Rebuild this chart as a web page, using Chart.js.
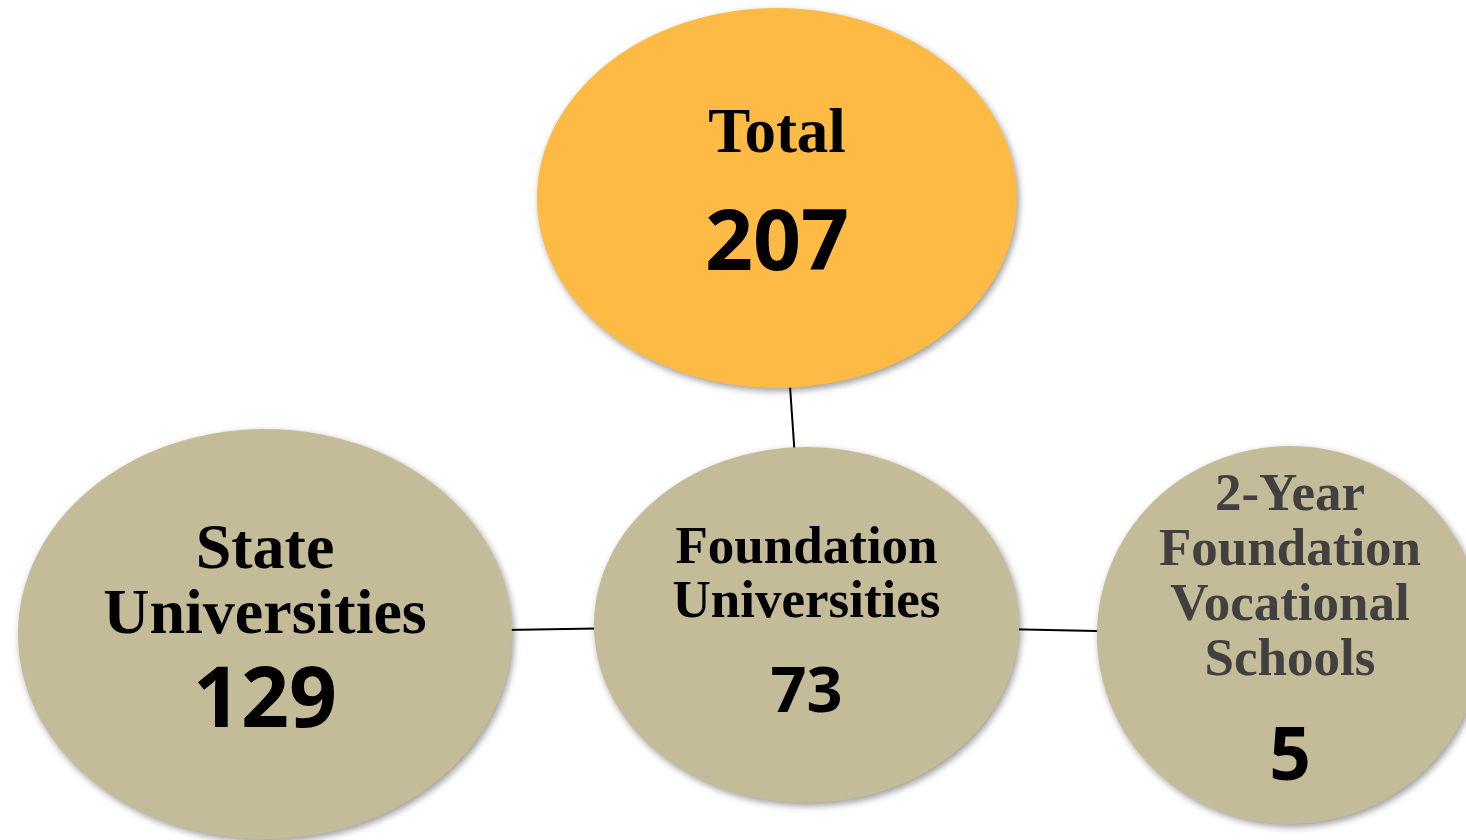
<!DOCTYPE html>
<html>
<head>
<meta charset="utf-8">
<script src="https://cdn.jsdelivr.net/npm/chart.js"></script>
<style>
  html, body { margin: 0; padding: 0; background: #ffffff; }
  #wrap { width: 1466px; height: 840px; position: relative; }
</style>
</head>
<body>
<div id="wrap"><canvas id="chart"></canvas></div>
<script>
// data
const nodeLabels = [
  ['Total'],
  ['State', 'Universities'],
  ['Foundation', 'Universities'],
  ['2-Year', 'Foundation', 'Vocational', 'Schools']
];
const nodeCounts = [207, 129, 73, 5];
// links between nodes (indices into the arrays above)
const links = [[0, 2], [1, 2], [2, 3]];

// layout (canvas pixel units = scale units)
const nodeX = [777, 265, 806.5, 1290];
const nodeY = [198, 634, 625, 635];
const radiusX = [240, 247, 212.5, 193];
const radiusY = [190, 205, 178, 189];
const fills = ['#fdbb45', '#c4bc98', '#c4bc98', '#c4bc98'];
const labelColors = ['#000000', '#000000', '#000000', '#404040'];
const labelSize = [63, 64, 53, 53];
const labelLineHeight = [0, 65, 54, 55];
const labelTop = [-46, -66, -62, -125];   // first baseline, relative to centre
const numberSize = [84, 84, 63, 73];
const numberBase = [72, 93, 87, 145];     // number baseline, relative to centre

const ellipsePlugin = {
  id: 'ellipses',
  afterDatasetsDraw(chart) {
    const ctx = chart.ctx;
    const xs = chart.scales.x;
    const ys = chart.scales.y;
    const pts = chart.getDatasetMeta(chart.data.datasets.length - 1).data;

    pts.forEach((pt, i) => {
      const cx = pt.x;
      const cy = pt.y;
      const rx = Math.abs(xs.getPixelForValue(nodeX[i] + radiusX[i]) - cx);
      const ry = Math.abs(ys.getPixelForValue(nodeY[i] + radiusY[i]) - cy);

      ctx.save();
      ctx.shadowColor = 'rgba(0,0,0,0.4)';
      ctx.shadowBlur = 7;
      ctx.shadowOffsetX = 2;
      ctx.shadowOffsetY = 3;
      ctx.beginPath();
      ctx.ellipse(cx, cy, rx, ry, 0, 0, Math.PI * 2);
      ctx.fillStyle = fills[i];
      ctx.fill();
      ctx.restore();

      ctx.save();
      ctx.textAlign = 'center';
      ctx.textBaseline = 'alphabetic';
      ctx.fillStyle = labelColors[i];
      ctx.font = `bold ${labelSize[i]}px "Liberation Serif", "Times New Roman", serif`;
      nodeLabels[i].forEach((line, j) => {
        ctx.fillText(line, cx, cy + labelTop[i] + j * labelLineHeight[i]);
      });
      ctx.fillStyle = '#000000';
      ctx.font = `bold ${numberSize[i]}px "Open Sans", "Noto Sans", sans-serif`;
      ctx.fillText(String(nodeCounts[i]), cx, cy + numberBase[i]);
      ctx.restore();
    });
  }
};

const linkSets = links.map(([a, b]) => ({
  type: 'line',
  data: [{ x: nodeX[a], y: nodeY[a] }, { x: nodeX[b], y: nodeY[b] }],
  borderColor: '#000000',
  borderWidth: 2,
  pointRadius: 0,
  fill: false,
  showLine: true
}));

new Chart(document.getElementById('chart'), {
  type: 'scatter',
  data: {
    datasets: [
      ...linkSets,
      {
        label: 'Institutions',
        data: nodeCounts.map((v, i) => ({ x: nodeX[i], y: nodeY[i], count: v })),
        pointRadius: 0,
        pointHoverRadius: 0
      }
    ]
  },
  options: {
    responsive: true,
    maintainAspectRatio: false,
    animation: false,
    layout: { padding: 0 },
    plugins: {
      legend: { display: false },
      tooltip: { enabled: false }
    },
    scales: {
      x: { type: 'linear', min: 0, max: 1466, display: false },
      y: { type: 'linear', min: 0, max: 840, reverse: true, display: false }
    }
  },
  plugins: [ellipsePlugin]
});
</script>
</body>
</html>
